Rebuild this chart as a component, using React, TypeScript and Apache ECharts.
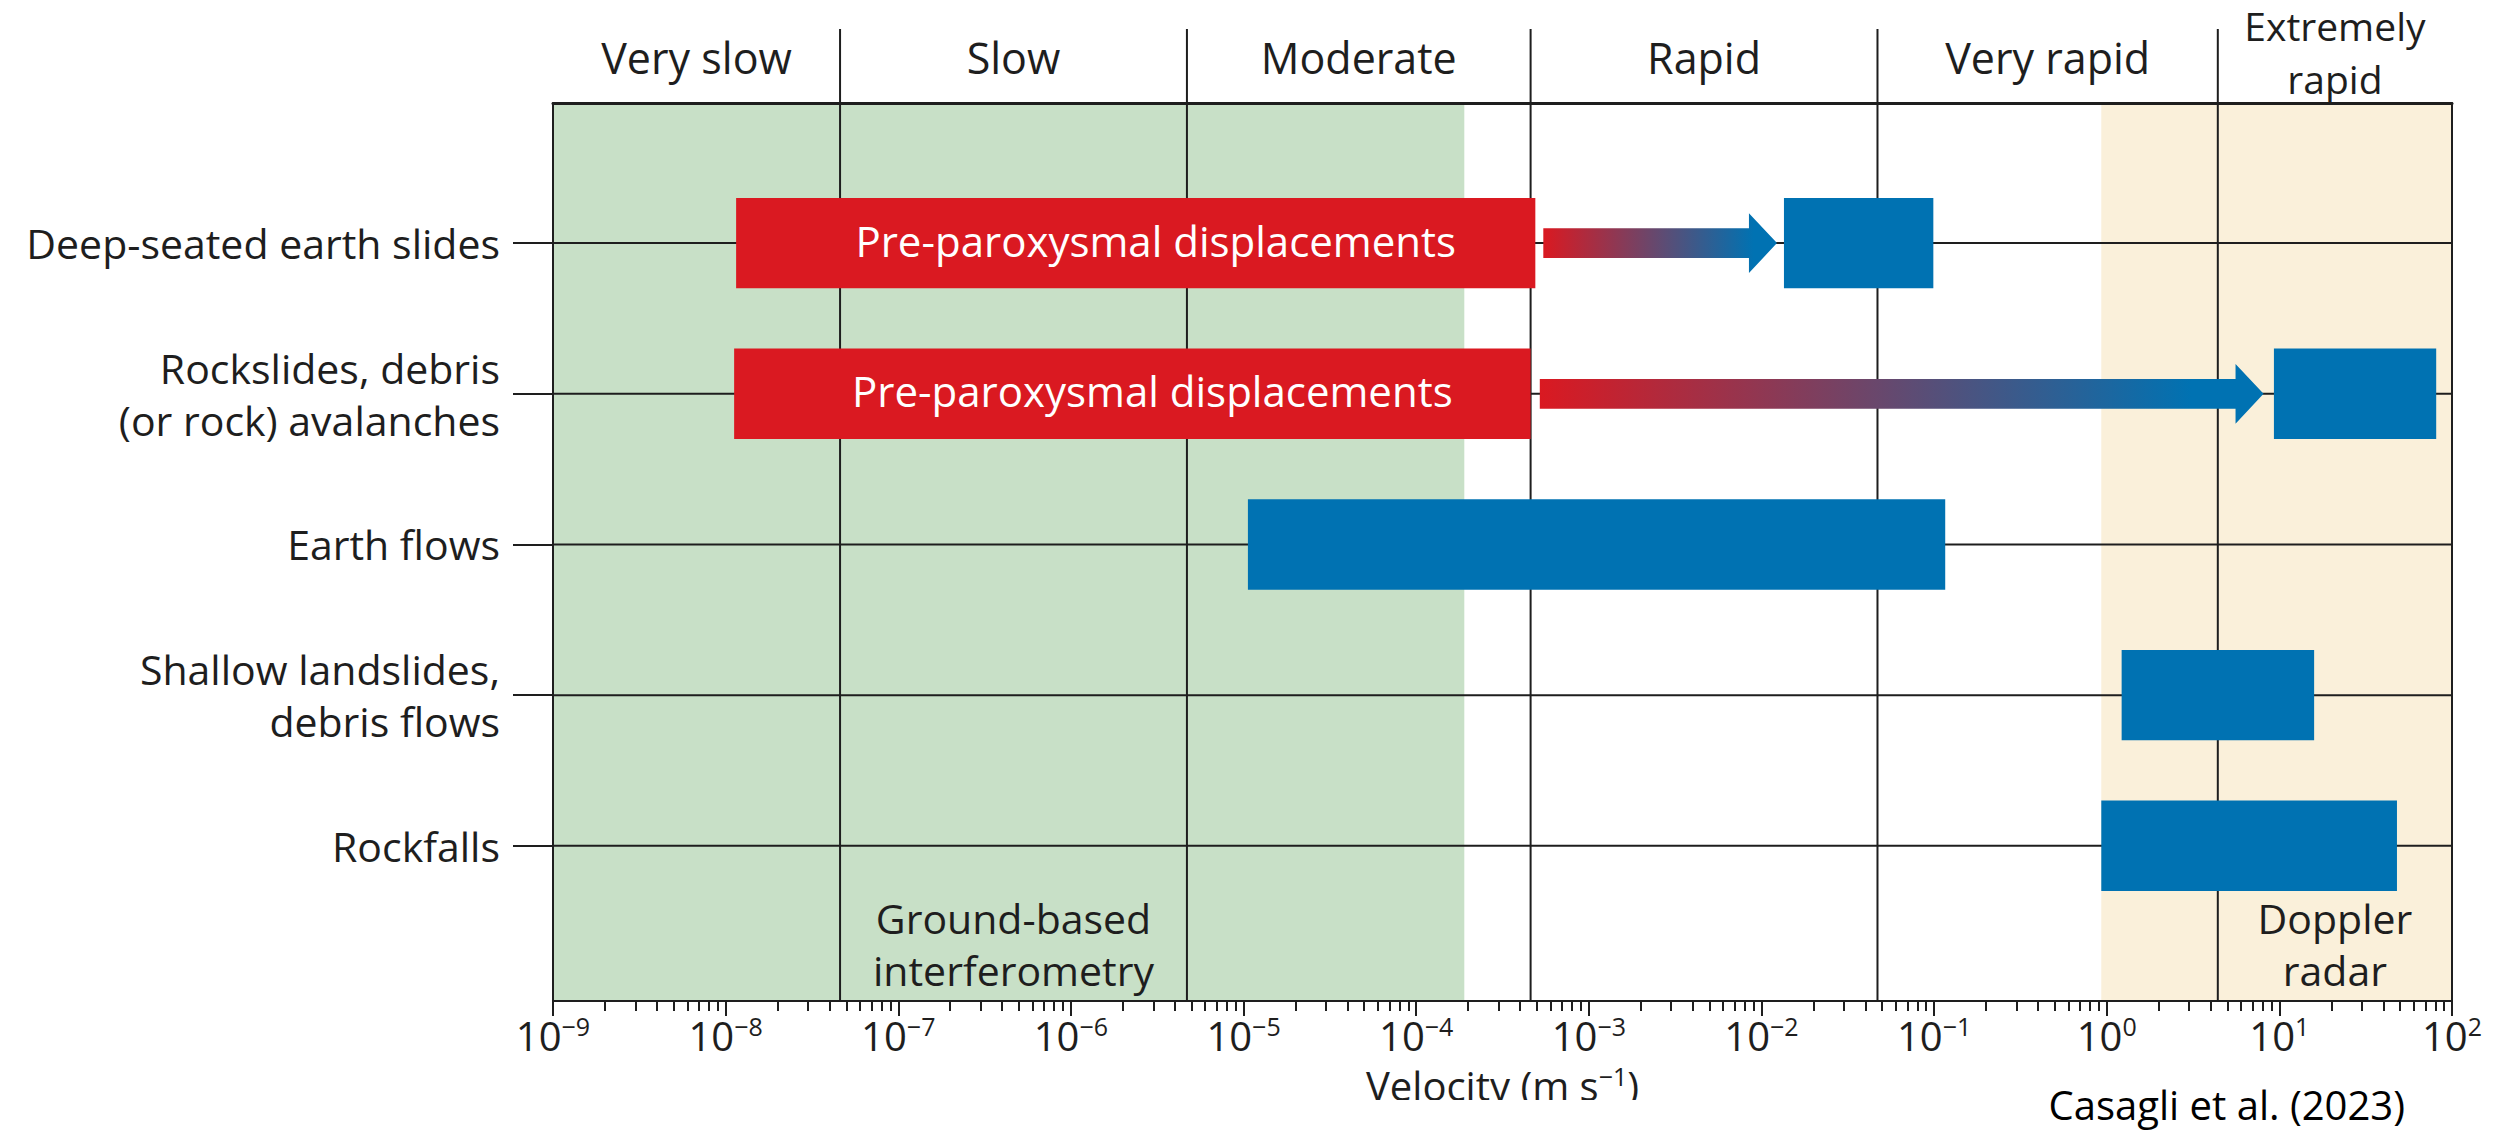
import React, { useEffect, useRef } from "react";
import * as echarts from "echarts";

// ---------------- data ----------------
const landslideTypes = [
  "Deep-seated earth slides",
  "Rockslides, debris\n(or rock) avalanches",
  "Earth flows",
  "Shallow landslides,\ndebris flows",
  "Rockfalls",
];
const rowPositions = [1, 2, 3, 4, 5];

const velocityClasses = ["Very slow", "Slow", "Moderate", "Rapid", "Very rapid", "Extremely\nrapid"];
const classBoundaries = [1e-9, 4.6e-8, 4.7e-6, 4.6e-4, 4.7e-2, 4.4, 100];

const preParoxysmalRow = [0, 1];
const preParoxysmalStart = [1.15e-8, 1.12e-8];
const preParoxysmalEnd = [4.9e-4, 4.6e-4];
const preParoxysmalLabel = "Pre-paroxysmal displacements";

const arrowRow = [0, 1];
const arrowStart = [5.45e-4, 5.2e-4];
const arrowEnd = [0.0123, 8.1];

const paroxysmalRow = [0, 1, 2, 3, 4];
const paroxysmalStart = [0.0135, 9.3, 1.06e-5, 1.22, 0.93];
const paroxysmalEnd = [0.099, 81, 0.116, 15.9, 48];

const monitoringNames = ["Ground-based\ninterferometry", "Doppler\nradar"];
const monitoringStart = [1e-9, 0.93];
const monitoringEnd = [1.9e-4, 100];
const monitoringLabelClass = [1, 5];

const decadeExponents = [-9, -8, -7, -6, -5, -4, -3, -2, -1, 0, 1, 2];
const minorMultipliers = [2, 3, 4, 5, 6, 7, 8, 9];

const axisTitle = "Velocity (m s{sup|−1})";
const sourceNote = "Casagli et al. (2023)";

// ---------------- style ----------------
const FONT = "'Open Sans', 'DejaVu Sans', sans-serif";
const INK = "#1e1e1e";
const RED = "#DA1921";
const BLUE = "#0072B2";
const ZONE_COLORS = ["#C8E0C7", "#FAF0DA"];
const BAR_HALF = 0.3;

const decadeValues = decadeExponents.map((e) => Math.pow(10, e));
const minorValues: number[] = [];
decadeExponents.slice(0, -1).forEach((e) => {
  minorMultipliers.forEach((m) => minorValues.push(m * Math.pow(10, e)));
});

function fmtDecade(v: number) {
  const e = Math.round(Math.log10(v));
  const s = e < 0 ? "−" + Math.abs(e) : String(e);
  return "10{sup|" + s + "}";
}

function rectFrom(api: any) {
  const a = api.coord([api.value(0), api.value(2) - BAR_HALF]);
  const b = api.coord([api.value(1), api.value(2) + BAR_HALF]);
  return {
    x: Math.min(a[0], b[0]),
    y: Math.min(a[1], b[1]),
    width: Math.abs(b[0] - a[0]),
    height: Math.abs(b[1] - a[1]),
  };
}

function buildOption() {
  const zoneData = monitoringStart.map((s, i) => [s, monitoringEnd[i], 1]);
  const boundaryData = classBoundaries.slice(1, -1).map((v) => [v, 1]);
  const headerData = velocityClasses.map((_, i) => [Math.sqrt(classBoundaries[i] * classBoundaries[i + 1]), 1]);
  const rowLineData = rowPositions.map((r) => [decadeValues[0], decadeValues[decadeValues.length - 1], r]);
  const preData = preParoxysmalRow.map((r, i) => [preParoxysmalStart[i], preParoxysmalEnd[i], rowPositions[r]]);
  const arrowData = arrowRow.map((r, i) => [arrowStart[i], arrowEnd[i], rowPositions[r]]);
  const parData = paroxysmalRow.map((r, i) => [paroxysmalStart[i], paroxysmalEnd[i], rowPositions[r]]);
  const monLabelData = monitoringLabelClass.map((c) => [
    Math.sqrt(classBoundaries[c] * classBoundaries[c + 1]),
    1,
  ]);

  const logAxisBase = {
    type: "log",
    logBase: 10,
    min: decadeValues[0],
    max: decadeValues[decadeValues.length - 1],
    splitLine: { show: false },
    minorTick: { show: false },
    minorSplitLine: { show: false },
  };

  return {
    animation: false,
    backgroundColor: "#ffffff",
    grid: { left: 553, right: 47, top: 103, bottom: 130, show: false, containLabel: false, outerBoundsMode: "none" },
    xAxis: [
      {
        ...logAxisBase,
        position: "bottom",
        z: 10,
        axisLine: { show: true, onZero: false, lineStyle: { color: INK, width: 2 } },
        axisTick: { show: true, inside: false, length: 15, customValues: decadeValues, lineStyle: { color: INK, width: 2 } },
        axisLabel: {
          show: true,
          margin: 12,
          customValues: decadeValues,
          formatter: fmtDecade,
          fontFamily: FONT,
          fontSize: 40,
          lineHeight: 44,
          color: INK,
          rich: { sup: { fontFamily: FONT, fontSize: 25, lineHeight: 26, verticalAlign: "top", color: INK } },
        },
        name: axisTitle,
        nameLocation: "middle",
        nameGap: 62,
        nameTextStyle: {
          fontFamily: FONT,
          fontSize: 40,
          lineHeight: 44,
          color: INK,
          rich: { sup: { fontFamily: FONT, fontSize: 25, lineHeight: 26, verticalAlign: "top", color: INK } },
        },
      },
      {
        ...logAxisBase,
        position: "bottom",
        z: 10,
        axisLine: { show: false, onZero: false },
        axisTick: { show: true, inside: false, length: 10, customValues: minorValues, lineStyle: { color: INK, width: 2 } },
        axisLabel: { show: false },
      },
      {
        ...logAxisBase,
        position: "top",
        z: 10,
        axisLine: { show: true, onZero: false, lineStyle: { color: INK, width: 3 } },
        axisTick: { show: false },
        axisLabel: { show: false },
      },
    ],
    yAxis: [
      {
        type: "value",
        inverse: true,
        min: 0.07,
        max: 6.03,
        position: "left",
        z: 10,
        splitLine: { show: false },
        axisLine: { show: true, onZero: false, lineStyle: { color: INK, width: 2 } },
        axisTick: { show: true, inside: false, length: 40, customValues: rowPositions, lineStyle: { color: INK, width: 2 } },
        axisLabel: {
          show: true,
          customValues: rowPositions,
          formatter: (v: number) => landslideTypes[Math.round(v) - 1] || "",
          margin: 53,
          fontFamily: FONT,
          fontSize: 41,
          lineHeight: 52,
          color: INK,
          align: "right",
        },
      },
      {
        type: "value",
        inverse: true,
        min: 0.07,
        max: 6.03,
        position: "right",
        z: 10,
        splitLine: { show: false },
        axisLine: { show: true, onZero: false, lineStyle: { color: INK, width: 2 } },
        axisTick: { show: false },
        axisLabel: { show: false },
      },
    ],
    series: [
      {
        type: "custom",
        name: "Monitoring ranges",
        z: 1,
        clip: false,
        encode: { x: [0, 1], y: 2 },
        data: zoneData,
        renderItem: (params: any, api: any) => {
          const cs = params.coordSys;
          const x0 = api.coord([api.value(0), 1])[0];
          const x1 = api.coord([api.value(1), 1])[0];
          return {
            type: "rect",
            shape: { x: x0, y: cs.y, width: x1 - x0, height: cs.height },
            style: { fill: ZONE_COLORS[params.dataIndex] },
          };
        },
      },
      {
        type: "custom",
        name: "Class boundaries",
        z: 2,
        clip: false,
        encode: { x: 0, y: 1 },
        data: boundaryData,
        renderItem: (params: any, api: any) => {
          const cs = params.coordSys;
          const x = api.coord([api.value(0), 1])[0];
          return {
            type: "line",
            shape: { x1: x, y1: cs.y - 74, x2: x, y2: cs.y + cs.height },
            style: { stroke: INK, lineWidth: 2 },
          };
        },
      },
      {
        type: "custom",
        name: "Rows",
        z: 2,
        clip: false,
        encode: { x: [0, 1], y: 2 },
        data: rowLineData,
        renderItem: (params: any, api: any) => {
          const a = api.coord([api.value(0), api.value(2)]);
          const b = api.coord([api.value(1), api.value(2)]);
          return {
            type: "line",
            shape: { x1: a[0], y1: a[1], x2: b[0], y2: b[1] },
            style: { stroke: INK, lineWidth: 2 },
          };
        },
      },
      {
        type: "custom",
        name: "Velocity classes",
        z: 4,
        clip: false,
        encode: { x: 0, y: 1 },
        data: headerData,
        renderItem: (params: any, api: any) => {
          const cs = params.coordSys;
          const x = api.coord([api.value(0), 1])[0];
          const label = velocityClasses[params.dataIndex];
          const twoLines = label.indexOf("\n") >= 0;
          return {
            type: "text",
            x,
            y: cs.y - (twoLines ? 51 : 46),
            style: {
              text: label,
              fontFamily: FONT,
              fontSize: twoLines ? 39 : 43,
              lineHeight: twoLines ? 53 : 46,
              fill: INK,
              align: "center",
              verticalAlign: "middle",
            },
          };
        },
      },
      {
        type: "custom",
        name: "Monitoring labels",
        z: 4,
        clip: false,
        encode: { x: 0, y: 1 },
        data: monLabelData,
        renderItem: (params: any, api: any) => {
          const cs = params.coordSys;
          const x = api.coord([api.value(0), 1])[0];
          return {
            type: "text",
            x,
            y: cs.y + cs.height - 57,
            style: {
              text: monitoringNames[params.dataIndex],
              fontFamily: FONT,
              fontSize: 41,
              lineHeight: 52,
              fill: INK,
              align: "center",
              verticalAlign: "middle",
            },
          };
        },
      },
      {
        type: "custom",
        name: "Pre-paroxysmal displacements",
        z: 3,
        clip: false,
        encode: { x: [0, 1], y: 2 },
        data: preData,
        renderItem: (params: any, api: any) => {
          const r = rectFrom(api);
          return {
            type: "group",
            children: [
              { type: "rect", shape: r, style: { fill: RED } },
              {
                type: "text",
                x: r.x + r.width / 2 + 20,
                y: r.y + r.height / 2 - 3,
                style: {
                  text: preParoxysmalLabel,
                  fontFamily: FONT,
                  fontSize: 42,
                  fill: "#ffffff",
                  align: "center",
                  verticalAlign: "middle",
                },
              },
            ],
          };
        },
      },
      {
        type: "custom",
        name: "Acceleration",
        z: 3,
        clip: false,
        encode: { x: [0, 1], y: 2 },
        data: arrowData,
        renderItem: (params: any, api: any) => {
          const r = rectFrom(api);
          const x0 = r.x;
          const xt = r.x + r.width;
          const cy = r.y + r.height / 2;
          const h = r.height;
          const sh = 0.165 * h;
          const hh = 0.33 * h;
          const hl = 0.31 * h;
          return {
            type: "polygon",
            shape: {
              points: [
                [x0, cy - sh],
                [xt - hl, cy - sh],
                [xt - hl, cy - hh],
                [xt, cy],
                [xt - hl, cy + hh],
                [xt - hl, cy + sh],
                [x0, cy + sh],
              ],
            },
            style: {
              fill: new echarts.graphic.LinearGradient(0, 0, 1, 0, [
                { offset: 0, color: RED },
                { offset: 0.9, color: BLUE },
                { offset: 1, color: BLUE },
              ]),
            },
          };
        },
      },
      {
        type: "custom",
        name: "Paroxysmal phase",
        z: 3,
        clip: false,
        encode: { x: [0, 1], y: 2 },
        data: parData,
        renderItem: (params: any, api: any) => {
          const r = rectFrom(api);
          return { type: "rect", shape: r, style: { fill: BLUE } };
        },
      },
    ],
    graphic: [
      {
        type: "rect",
        z: 100,
        shape: { x: 1320, y: 1100, width: 380, height: 31 },
        style: { fill: "#ffffff" },
      },
      {
        type: "text",
        z: 101,
        x: 2405,
        y: 1104,
        style: {
          text: sourceNote,
          fontFamily: FONT,
          fontSize: 40,
          fill: "#000000",
          align: "right",
          verticalAlign: "middle",
        },
      },
    ],
  };
}

export default function App() {
  const ref = useRef<HTMLDivElement>(null);
  useEffect(() => {
    document.body.style.margin = "0";
    const chart = echarts.init(ref.current!, null, { renderer: "svg" });
    chart.setOption(buildOption() as any);
    return () => chart.dispose();
  }, []);
  return <div ref={ref} style={{ width: 2499, height: 1131 }} />;
}
